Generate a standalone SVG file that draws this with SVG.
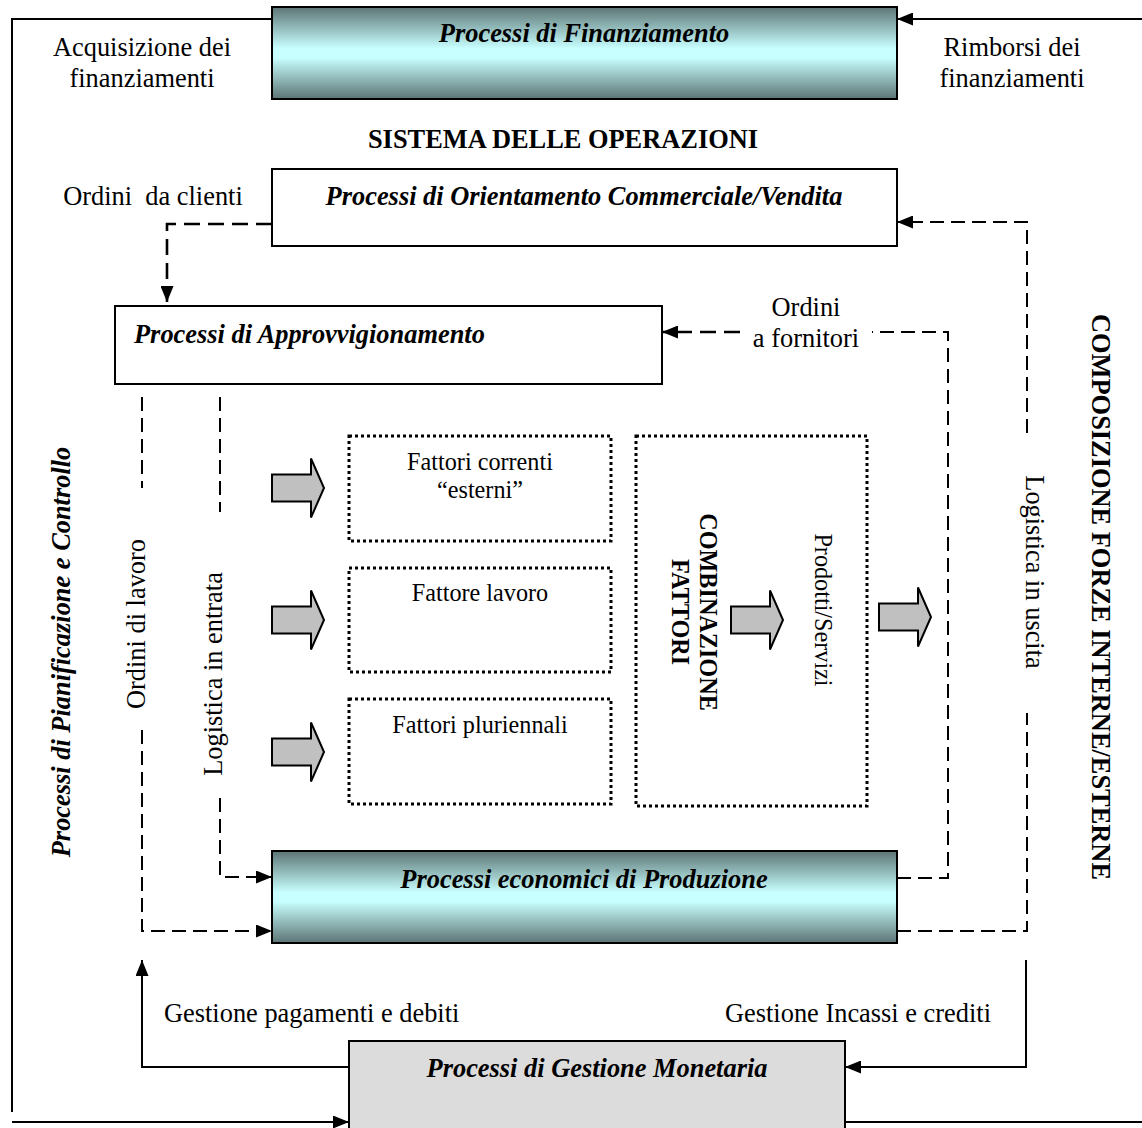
<svg xmlns="http://www.w3.org/2000/svg" width="1142" height="1128" viewBox="0 0 1142 1128">
<style>
text{font-family:"Liberation Serif","Times New Roman",serif;fill:#000}
.o{font-size:26.4px}
.i{font-size:24.2px}
.bi{font-weight:bold;font-style:italic;font-size:26.4px}
.b{font-weight:bold;font-size:26.4px}
.bs{font-weight:bold;font-size:24.2px}
.box{stroke:#000;stroke-width:2}
.dot{fill:#fff;stroke:#000;stroke-width:3;stroke-dasharray:3 3}
.sol{fill:none;stroke:#000;stroke-width:2}
.dsh{fill:none;stroke:#000;stroke-width:2;stroke-dasharray:14 7}
.dshb{fill:none;stroke:#000;stroke-width:2.6;stroke-dasharray:16 8}
.ba{fill:#c0c0c0;stroke:#000;stroke-width:2}
</style>
<defs>
<linearGradient id="teal" x1="0" y1="0" x2="0" y2="1">
<stop offset="0" stop-color="#5c7474"/>
<stop offset="0.45" stop-color="#c8ffff"/>
<stop offset="0.55" stop-color="#c8ffff"/>
<stop offset="1" stop-color="#5c7474"/>
</linearGradient>
<marker id="ah" viewBox="0 0 16 13" refX="16" refY="6.5" markerWidth="16" markerHeight="13" orient="auto" markerUnits="userSpaceOnUse">
<path d="M0,0 L16,6.5 L0,13 Z" fill="#000"/>
</marker>
<path id="barrow" d="M0,-13.5 H39 V-29.5 L52,0 L39,29.5 V13.5 H0 Z"/>
</defs>

<rect width="1142" height="1128" fill="#fff"/>

<g id="connectors">
<path class="sol" d="M12,1112 V19 H272"/>
<path class="sol" d="M1142,19 H897" marker-end="url(#ah)"/>
<path class="sol" d="M12,1122 H349" marker-end="url(#ah)"/>
<path class="sol" d="M845,1122 H1142"/>
<path class="sol" d="M349,1067 H142 V960" marker-end="url(#ah)"/>
<path class="sol" d="M1026,960 V1067 H845" marker-end="url(#ah)"/>
<path class="dshb" d="M272,224 H167 V302" marker-end="url(#ah)"/>
<path class="dsh" d="M897,878 H948 V332 H872"/>
<path class="dshb" d="M740,332 H662" marker-end="url(#ah)"/>
<path class="dsh" d="M897,931 H1027 V713"/>
<path class="dsh" d="M1027,433 V222 H897" marker-end="url(#ah)"/>
<path class="dsh" d="M142,397 V488"/>
<path class="dsh" d="M142,730 V931 H272" marker-end="url(#ah)"/>
<path class="dsh" d="M220,397 V512"/>
<path class="dsh" d="M220,798 V877 H272" marker-end="url(#ah)"/>
</g>

<g id="finanziamento">
<rect class="box" x="272" y="7" width="625" height="92" fill="url(#teal)" stroke="#333"/>
<text class="bi" x="584" y="42" text-anchor="middle">Processi di Finanziamento</text>
</g>

<g id="label-acquisizione">
<text class="o" x="142" y="56" text-anchor="middle">Acquisizione dei</text>
<text class="o" x="142" y="87" text-anchor="middle">finanziamenti</text>
</g>
<g id="label-rimborsi">
<text class="o" x="1012" y="56" text-anchor="middle">Rimborsi dei</text>
<text class="o" x="1012" y="87" text-anchor="middle">finanziamenti</text>
</g>

<g id="titolo">
<text class="b" x="563" y="148" text-anchor="middle">SISTEMA DELLE OPERAZIONI</text>
</g>

<g id="orientamento">
<rect class="box" x="272" y="169" width="625" height="77" fill="#fff"/>
<text class="bi" x="584" y="205" text-anchor="middle">Processi di Orientamento Commerciale/Vendita</text>
</g>
<g id="label-ordini-clienti">
<text class="o" x="153" y="205" text-anchor="middle" xml:space="preserve" style="white-space:pre">Ordini  da clienti</text>
</g>

<g id="approvvigionamento">
<rect class="box" x="115" y="306" width="547" height="78" fill="#fff"/>
<text class="bi" x="134" y="343">Processi di Approvvigionamento</text>
</g>
<g id="label-ordini-fornitori">
<text class="o" x="806" y="316" text-anchor="middle">Ordini</text>
<text class="o" x="806" y="347" text-anchor="middle">a fornitori</text>
</g>

<g id="pianificazione">
<text class="bi" transform="translate(70,652) rotate(-90)" text-anchor="middle">Processi di Pianificazione e Controllo</text>
</g>
<g id="label-ordini-lavoro">
<text class="o" transform="translate(145,624) rotate(-90)" text-anchor="middle">Ordini di lavoro</text>
</g>
<g id="label-logistica-entrata">
<text class="o" transform="translate(222,674) rotate(-90)" text-anchor="middle">Logistica in entrata</text>
</g>
<g id="label-logistica-uscita">
<text class="o" transform="translate(1026,572) rotate(90)" text-anchor="middle">Logistica in uscita</text>
</g>
<g id="composizione">
<text class="b" transform="translate(1092,597) rotate(90)" text-anchor="middle">COMPOSIZIONE FORZE INTERNE/ESTERNE</text>
</g>

<g id="fattori-correnti">
<rect class="dot" x="349" y="436" width="262" height="105"/>
<text class="i" x="480" y="470" text-anchor="middle">Fattori correnti</text>
<text class="i" x="480" y="498" text-anchor="middle">“esterni”</text>
</g>
<g id="fattore-lavoro">
<rect class="dot" x="349" y="568" width="262" height="104"/>
<text class="i" x="480" y="601" text-anchor="middle">Fattore lavoro</text>
</g>
<g id="fattori-pluriennali">
<rect class="dot" x="349" y="699" width="262" height="105"/>
<text class="i" x="480" y="733" text-anchor="middle">Fattori pluriennali</text>
</g>
<g id="combinazione">
<rect class="dot" x="636" y="436" width="231" height="370"/>
<text class="bs" transform="translate(700,612) rotate(90)" text-anchor="middle">COMBINAZIONE</text>
<text class="bs" transform="translate(672,612) rotate(90)" text-anchor="middle">FATTORI</text>
<text class="i" transform="translate(815,610) rotate(90)" text-anchor="middle">Prodotti/Servizi</text>
</g>

<g id="block-arrows">
<use href="#barrow" class="ba" x="272" y="488"/>
<use href="#barrow" class="ba" x="272" y="620"/>
<use href="#barrow" class="ba" x="272" y="752"/>
<use href="#barrow" class="ba" x="731" y="620"/>
<use href="#barrow" class="ba" x="879" y="617"/>
</g>

<g id="produzione">
<rect class="box" x="272" y="851" width="625" height="92" fill="url(#teal)" stroke="#333"/>
<text class="bi" x="584" y="888" text-anchor="middle">Processi economici di Produzione</text>
</g>

<g id="label-pagamenti">
<text class="o" x="164" y="1022">Gestione pagamenti e debiti</text>
</g>
<g id="label-incassi">
<text class="o" x="858" y="1022" text-anchor="middle">Gestione Incassi e crediti</text>
</g>

<g id="monetaria">
<rect class="box" x="349" y="1041" width="496" height="100" fill="#dcdcdc"/>
<text class="bi" x="597" y="1077" text-anchor="middle">Processi di Gestione Monetaria</text>
</g>
</svg>
